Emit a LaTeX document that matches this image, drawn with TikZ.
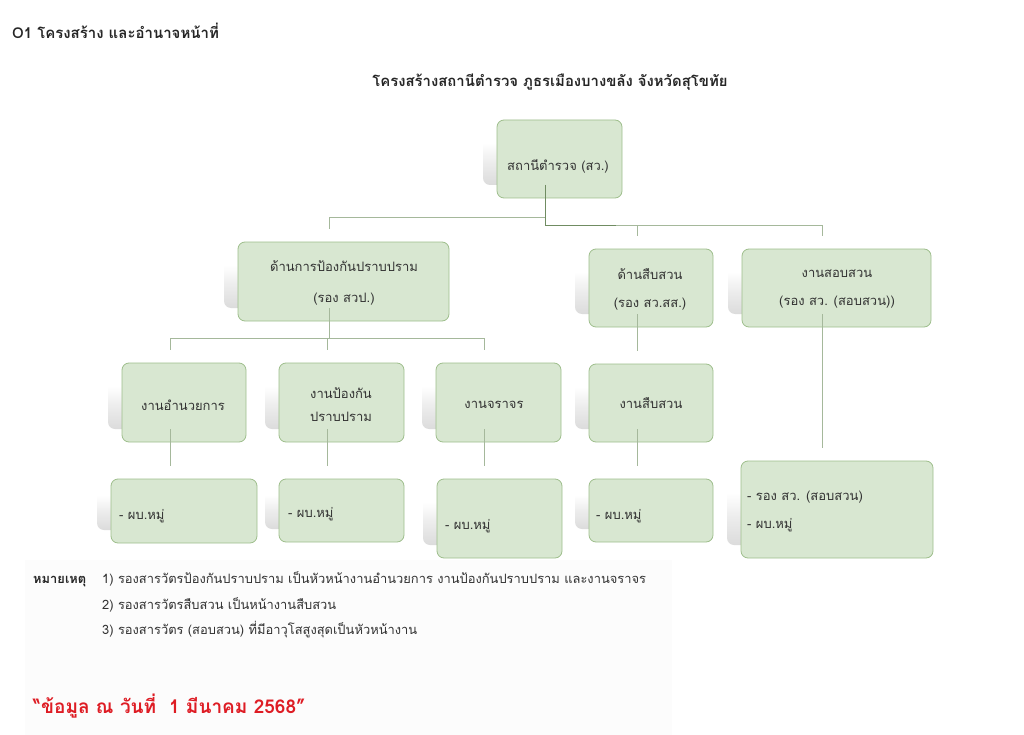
\documentclass[tikz,border=0pt]{standalone}
\usepackage{fontspec}
\usepackage{xcolor}
\setmainfont{Loma}[Script=Thai]
\usetikzlibrary{shapes,arrows}

\definecolor{boxfill}{RGB}{216,231,209}
\definecolor{boxline}{RGB}{158,190,140}
\definecolor{linkcol}{RGB}{165,184,155}
\definecolor{linkdark}{RGB}{112,140,98}
\definecolor{txtcol}{RGB}{50,50,50}
\definecolor{datered}{RGB}{222,28,36}
\pgfdeclareverticalshading{shadowfade}{100bp}{color(0bp)=(black!14); color(25bp)=(black!14); color(40bp)=(black!7); color(52bp)=(white); color(100bp)=(white)}

\begin{document}
\begin{tikzpicture}[x=1pt, y=-1pt,
	shadowbox/.style = {rectangle, rounded corners = 7, inner sep = 0, outer sep = 0, shading = shadowfade, draw = none},
	greenbox/.style = {rectangle, rounded corners = 7, inner sep = 0, outer sep = 0, fill = boxfill, draw = boxline, line width = 0.8},
	link/.style = {draw = linkcol, line width = 0.8},
	boxtext/.style = {text = txtcol, font = \fontsize{13}{15}\selectfont, inner sep = 0, align = center},
	listtext/.style = {text = txtcol, font = \fontsize{13}{28}\selectfont, inner sep = 0, align = left, anchor = west}]

		\useasboundingbox (0,0) rectangle (1024,735);
		\fill[black!1] (25,560) rectangle (672,735);

		% headings
		\node (head)[anchor = west, inner sep = 0, text = black!85, font = \fontsize{15}{17}\selectfont\bfseries] at (12,31) {O1 โครงสร้าง และอำนาจหน้าที่};
		\node (title)[inner sep = 0, text = black!85, font = \fontsize{14.9}{17}\selectfont\bfseries] at (550,82) {โครงสร้างสถานีตำรวจ ภูธรเมืองบางขลัง จังหวัดสุโขทัย};

		% shadows (the connectors meet these)
		\node (st)[shadowbox, minimum width = 125, minimum height = 78] at (545.5,146) {};
		\node (dp)[shadowbox, minimum width = 211, minimum height = 79] at (329.5,268.5) {};
		\node (ds)[shadowbox, minimum width = 124, minimum height = 78] at (637,275) {};
		\node (gs)[shadowbox, minimum width = 189, minimum height = 78] at (822.5,275) {};
		\node (ga)[shadowbox, minimum width = 124, minimum height = 79] at (170,389.5) {};
		\node (gp)[shadowbox, minimum width = 125, minimum height = 79] at (327.5,389.5) {};
		\node (gj)[shadowbox, minimum width = 125, minimum height = 79] at (484.5,389.5) {};
		\node (gsb)[shadowbox, minimum width = 124, minimum height = 78] at (637,390) {};
		\node (r1)[shadowbox, minimum width = 146, minimum height = 64] at (170,498) {};
		\node (r2)[shadowbox, minimum width = 125, minimum height = 63] at (327.5,497.5) {};
		\node (r3)[shadowbox, minimum width = 125, minimum height = 79] at (485.5,505.5) {};
		\node (r4)[shadowbox, minimum width = 124, minimum height = 63] at (637,497.5) {};
		\node (r5)[shadowbox, minimum width = 192, minimum height = 97] at (823,496.5) {};

		% boxes
		\node (st-b)[greenbox, minimum width = 125, minimum height = 78] at ([shift = {(14,13)}]st.center) {};
		\node (dp-b)[greenbox, minimum width = 211, minimum height = 79] at ([shift = {(14,13)}]dp.center) {};
		\node (ds-b)[greenbox, minimum width = 124, minimum height = 78] at ([shift = {(14,13)}]ds.center) {};
		\node (gs-b)[greenbox, minimum width = 189, minimum height = 78] at ([shift = {(14,13)}]gs.center) {};
		\node (ga-b)[greenbox, minimum width = 124, minimum height = 79] at ([shift = {(14,13)}]ga.center) {};
		\node (gp-b)[greenbox, minimum width = 125, minimum height = 79] at ([shift = {(14,13)}]gp.center) {};
		\node (gj-b)[greenbox, minimum width = 125, minimum height = 79] at ([shift = {(14,13)}]gj.center) {};
		\node (gsb-b)[greenbox, minimum width = 124, minimum height = 78] at ([shift = {(14,13)}]gsb.center) {};
		\node (r1-b)[greenbox, minimum width = 146, minimum height = 64] at ([shift = {(14,13)}]r1.center) {};
		\node (r2-b)[greenbox, minimum width = 125, minimum height = 63] at ([shift = {(14,13)}]r2.center) {};
		\node (r3-b)[greenbox, minimum width = 125, minimum height = 79] at ([shift = {(14,13)}]r3.center) {};
		\node (r4-b)[greenbox, minimum width = 124, minimum height = 63] at ([shift = {(14,13)}]r4.center) {};
		\node (r5-b)[greenbox, minimum width = 192, minimum height = 97] at ([shift = {(14,13)}]r5.center) {};

		% connectors
		\draw[link] (st.south) -- ++(0,32) -| (dp.north);
		\draw[link] (st.south) -- ++(0,40) coordinate (stbar) -| (ds.north);
		\draw[link] (stbar) -| (gs.north);
		\draw[draw = linkdark, line width = 0.8] (st.south) -- (stbar) -- ++(70,0);

		\draw[link] (dp.south) -- ++(0,30) coordinate (dpbar) -| (ga.north);
		\draw[link] (dpbar) -| (gp.north);
		\draw[link] (dpbar) -| (gj.north);

		\draw[link] (ga.south) -- (r1.north);
		\draw[link] (gp.south) -- (r2.north);
		\draw[link] (gj.south) -- (gj.south |- r3.north);
		\draw[link] (ds.south) -- (gsb.north);
		\draw[link] (gsb.south) -- (r4.north);
		\draw[link] (gs.south) -- (gs.south |- r5.north);

		% texts
		\node (st-t)[boxtext] at (558,166) {สถานีตำรวจ (สว.)};
		\node (dp-t)[boxtext, font = \fontsize{13}{31}\selectfont] at (344,282.5) {ด้านการป้องกันปราบปราม\\(รอง สวป.)};
		\node (ds-t)[boxtext, font = \fontsize{13}{28}\selectfont] at (650,289) {ด้านสืบสวน\\(รอง สว.สส.)};
		\node (gs-t)[boxtext, font = \fontsize{13}{28}\selectfont] at (837,289) {งานสอบสวน\\(รอง สว. (สอบสวน))};
		\node (ga-t)[boxtext] at (183,405) {งานอำนวยการ};
		\node (gp-t)[boxtext, font = \fontsize{13}{23}\selectfont] at (341,404.5) {งานป้องกัน\\ปราบปราม};
		\node (gj-t)[boxtext] at (494,405) {งานจราจร};
		\node (gsb-t)[boxtext] at (651,403) {งานสืบสวน};
		\node (r1-t)[listtext] at (119,516) {- ผบ.หมู่};
		\node (r2-t)[listtext] at (288,514) {- ผบ.หมู่};
		\node (r3-t)[listtext] at (445,526) {- ผบ.หมู่};
		\node (r4-t)[listtext] at (596,516) {- ผบ.หมู่};
		\node (r5-t)[listtext] at (747,511) {- รอง สว. (สอบสวน)\\- ผบ.หมู่};

		% notes
		\node (n1)[anchor = west, inner sep = 0, text = txtcol, font = \fontsize{12.9}{15}\selectfont] at (102,579) {1) รองสารวัตรป้องกันปราบปราม เป็นหัวหน้างานอำนวยการ งานป้องกันปราบปราม และงานจราจร};
		\node (n2)[anchor = west, inner sep = 0, text = txtcol, font = \fontsize{12.9}{15}\selectfont] at (102,605) {2) รองสารวัตรสืบสวน เป็นหน้างานสืบสวน};
		\node (n3)[anchor = west, inner sep = 0, text = txtcol, font = \fontsize{12.9}{15}\selectfont] at (102,630) {3) รองสารวัตร (สอบสวน) ที่มีอาวุโสสูงสุดเป็นหัวหน้างาน};
		\node (note)[anchor = base west, inner sep = 0, text = black!85, font = \fontsize{12.9}{15}\selectfont\bfseries] at ([xshift = -69]n1.base west) {หมายเหตุ};

		\node (date)[anchor = west, inner sep = 0, text = datered, font = \fontsize{19}{22}\selectfont\bfseries] at (33,706) {“ข้อมูล ณ วันที่\ \ 1 มีนาคม 2568”};
	\end{tikzpicture}
\end{document}
